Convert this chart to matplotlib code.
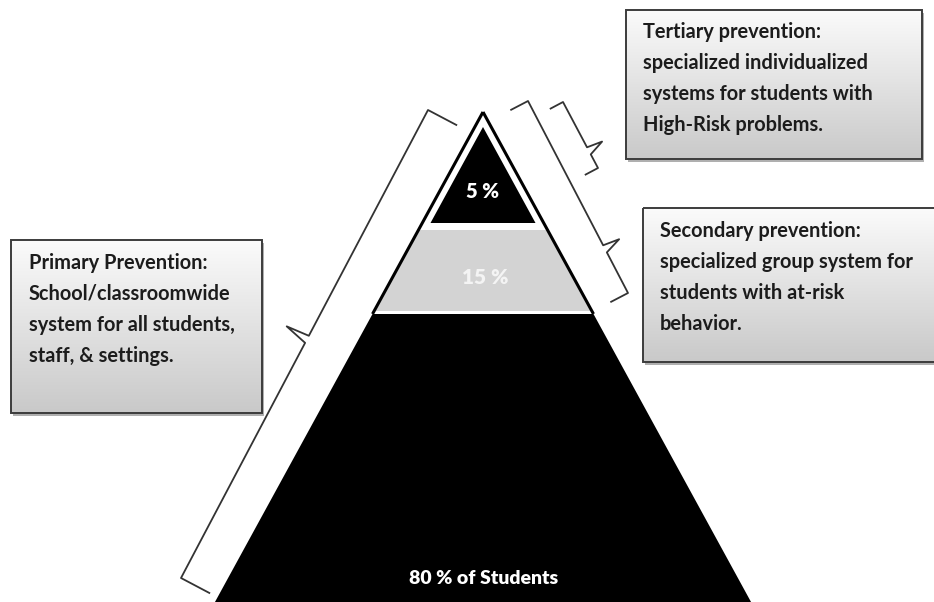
import numpy as np
import matplotlib.pyplot as plt
from matplotlib.patches import Polygon, Rectangle
from matplotlib.colors import LinearSegmentedColormap

plt.rcParams['font.family'] = ['Lato', 'DejaVu Sans']

# tier labels, top to bottom
tier_labels = ["5 %", "15 %", "80 % of Students"]
tier_colors = ["black", "#d3d3d3", "black"]
tier_text_colors = ["white", "#f4f4f4", "white"]

box_titles = ["Tertiary prevention:", "Secondary prevention:", "Primary Prevention:"]
box_lines = [
    ["specialized individualized", "systems for students with", "High-Risk problems."],
    ["specialized group system for", "students with at-risk", "behavior."],
    ["School/classroomwide", "system for all students,", "staff, & settings."],
]

W, H = 934, 602
fig = plt.figure(figsize=(W / 100, H / 100), dpi=100)
ax = fig.add_axes([0, 0, 1, 1])
ax.set_xlim(0, W)
ax.set_ylim(H, 0)
ax.axis('off')

# pyramid geometry (pixels)
cx, apex_y = 483, 112
slope = 0.547
tip_bot, mid_bot, base_top, base_bot = 230, 311, 314, 604


def hw(y):
    return slope * (y - apex_y)


def trap(y0, y1):
    return [(cx - hw(y0), y0), (cx + hw(y0), y0),
            (cx + hw(y1), y1), (cx - hw(y1), y1)]


# tip: white with black outline, inner black triangle
ax.add_patch(Polygon([(cx, apex_y), (cx + hw(tip_bot), tip_bot), (cx - hw(tip_bot), tip_bot)],
                     closed=True, fc='white', ec='none', zorder=2))
in_apex, in_base = 127, 223
in_hw = slope * (in_base - in_apex)
ax.add_patch(Polygon([(cx, in_apex), (cx + in_hw, in_base), (cx - in_hw, in_base)],
                     closed=True, fc=tier_colors[0], ec='none', zorder=3))
# gray band
ax.add_patch(Polygon(trap(tip_bot, mid_bot), closed=True, fc=tier_colors[1], ec='none', zorder=2))
# black base
ax.add_patch(Polygon(trap(base_top, base_bot), closed=True, fc=tier_colors[2], ec='none', zorder=2))
# outer outline on the upper part
for s in (-1, 1):
    ax.plot([cx, cx + s * hw(base_top)], [apex_y, base_top], color='black', lw=2.2,
            solid_capstyle='butt', zorder=4)

ax.text(cx, 191, tier_labels[0], color=tier_text_colors[0], fontsize=14.5, fontweight='heavy',
        ha='center', va='center', zorder=5)
ax.text(cx + 2, 277, tier_labels[1], color=tier_text_colors[1], fontsize=15, fontweight='heavy',
        ha='center', va='center', zorder=5)
ax.text(cx + 1, 578, tier_labels[2], color=tier_text_colors[2], fontsize=14, fontweight='heavy',
        ha='center', va='center', zorder=5)


# curly braces
def brace(p_start, p_end, arm, tip, frac, out_sign):
    p0, p1 = np.array(p_start, float), np.array(p_end, float)
    L = np.linalg.norm(p1 - p0)
    u = (p1 - p0) / L
    n = np.array([-u[1], u[0]]) * out_sign
    sc = frac * L
    local = [(0, -arm), (0, 0), (sc - 4, 0), (sc - 2, tip), (sc + 4, 0), (L, 0), (L, -arm)]
    pts = np.array([p0 + s * u + d * n for s, d in local])
    ax.plot(pts[:, 0], pts[:, 1], color='#333333', lw=1.3, zorder=6,
            solid_joinstyle='round')


brace((428, 110), (181, 578), 32, 24, 0.49, 1)
brace((528, 101), (628, 293), 19, 17, 0.77, -1)
brace((563, 102), (598, 168), 14, 16, 0.74, -1)

# text boxes with gradient fill
cmap = LinearSegmentedColormap.from_list('box', ['#fbfbfb', '#c9c9c9'])
grad = np.linspace(0, 1, 256).reshape(-1, 1)


def box(x0, y0, x1, y1, title, lines, tx, ty, pitch=31):
    ax.add_patch(Rectangle((x0 + 2, y0 + 3), x1 - x0, y1 - y0, fc='#7a7a7a', ec='none',
                           alpha=0.6, zorder=7))
    rect = Rectangle((x0, y0), x1 - x0, y1 - y0, fc='none', ec='#3c3c3c', lw=1.4, zorder=9)
    im = ax.imshow(grad, cmap=cmap, extent=(x0, x1, y1, y0), aspect='auto', zorder=8,
                   origin='upper', interpolation='bilinear')
    ax.add_patch(rect)
    im.set_clip_path(rect)
    for i, t in enumerate([title] + lines):
        ax.text(tx, ty + i * pitch, t, color='#1c1c1c', fontsize=14.4, fontweight='bold',
                ha='left', va='baseline', zorder=10)


box(626, 10, 922, 159, box_titles[0], box_lines[0], 643, 38)
box(643, 208, 940, 362, box_titles[1], box_lines[1], 660, 237)
box(11, 240, 262, 413, box_titles[2], box_lines[2], 29, 269)

ax.set_xlim(0, W)
ax.set_ylim(H, 0)
fig.savefig('out.png', dpi=100)
